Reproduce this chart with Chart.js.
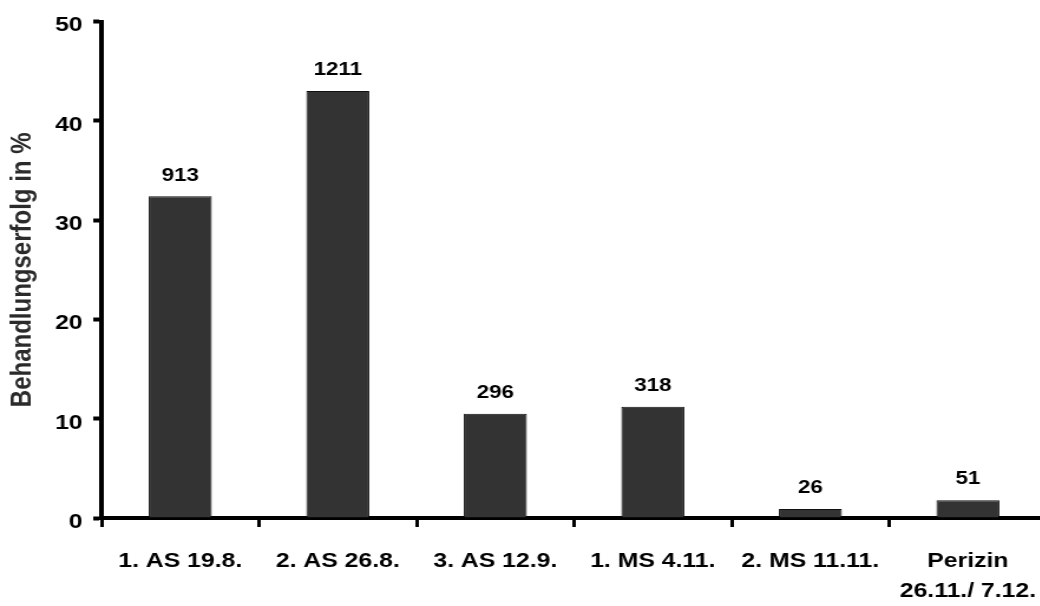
<!DOCTYPE html>
<html>
<head>
<meta charset="utf-8">
<script src="https://cdn.jsdelivr.net/npm/chart.js@4/dist/chart.umd.min.js"></script>
<style>
  html, body { margin: 0; padding: 0; background: #fff; }
  #wrap { width: 1040px; height: 606px; overflow: hidden; position: relative; }
  /* the chart is drawn on a narrower canvas and widened horizontally */
  #c { transform: scaleX(1.18); transform-origin: 0 0; display: block; }
</style>
</head>
<body>
<div id="wrap"><canvas id="c" width="900" height="606"></canvas></div>
<script>
// Treatments (categories)
const categories = [
  "1. AS 19.8.",
  "2. AS 26.8.",
  "3. AS 12.9.",
  "1. MS 4.11.",
  "2. MS 11.11.",
  ["Perizin", "26.11./ 7.12."]
];
// Treatment success in percent
const successPct = [32.4, 43.0, 10.5, 11.2, 0.9, 1.8];
// Numbers printed above the bars
const counts = ["913", "1211", "296", "318", "26", "51"];
// Y-axis range and step
const yMin = 0, yMax = 50, yStep = 10;

const FONT = "'Liberation Sans', Arial, Helvetica, sans-serif";

const countLabels = {
  id: "countLabels",
  afterDatasetsDraw(chart) {
    const ctx = chart.ctx;
    const meta = chart.getDatasetMeta(0);
    ctx.save();
    ctx.font = "bold 19px " + FONT;
    ctx.fillStyle = "#000";
    ctx.textAlign = "center";
    ctx.textBaseline = "middle";
    meta.data.forEach((bar, i) => {
      ctx.fillText(counts[i], bar.x, bar.y - 21);
    });
    ctx.restore();
  }
};

new Chart(document.getElementById("c"), {
  type: "bar",
  data: {
    labels: categories,
    datasets: [{
      data: successPct,
      backgroundColor: "#333333",
      borderColor: "#111111",
      borderWidth: 1,
      barPercentage: 0.4,
      categoryPercentage: 1.0
    }]
  },
  options: {
    responsive: false,
    animation: false,
    devicePixelRatio: 1,
    layout: { padding: { top: 21, right: 13, bottom: 0, left: 0 } },
    plugins: {
      legend: { display: false },
      tooltip: { enabled: false }
    },
    scales: {
      x: {
        offset: true,
        grid: {
          offset: true,
          drawOnChartArea: false,
          drawTicks: true,
          tickLength: 9,
          tickWidth: 3,
          tickColor: "#000"
        },
        border: { display: true, color: "#000", width: 4 },
        ticks: {
          color: "#000",
          padding: 20,
          maxRotation: 0,
          autoSkip: false,
          font: { family: FONT, size: 21, weight: "bold", lineHeight: 1.4 }
        },
        afterFit(scale) { scale.height = 88; }
      },
      y: {
        min: yMin,
        max: yMax,
        grid: {
          drawOnChartArea: false,
          drawTicks: true,
          tickLength: 7,
          tickWidth: 4,
          tickColor: "#000"
        },
        border: { display: true, color: "#000", width: 4 },
        ticks: {
          stepSize: yStep,
          color: "#000",
          padding: 9,
          labelOffset: 4,
          font: { family: FONT, size: 21, weight: "bold" }
        },
        title: {
          display: true,
          text: "Behandlungserfolg in %",
          color: "#2a2a2a",
          padding: { top: 5, bottom: 0 },
          font: { family: FONT, size: 24, weight: "bold", lineHeight: 1.2 }
        },
        afterFit(scale) { scale.width = 86; }
      }
    }
  },
  plugins: [countLabels]
});
</script>
</body>
</html>
